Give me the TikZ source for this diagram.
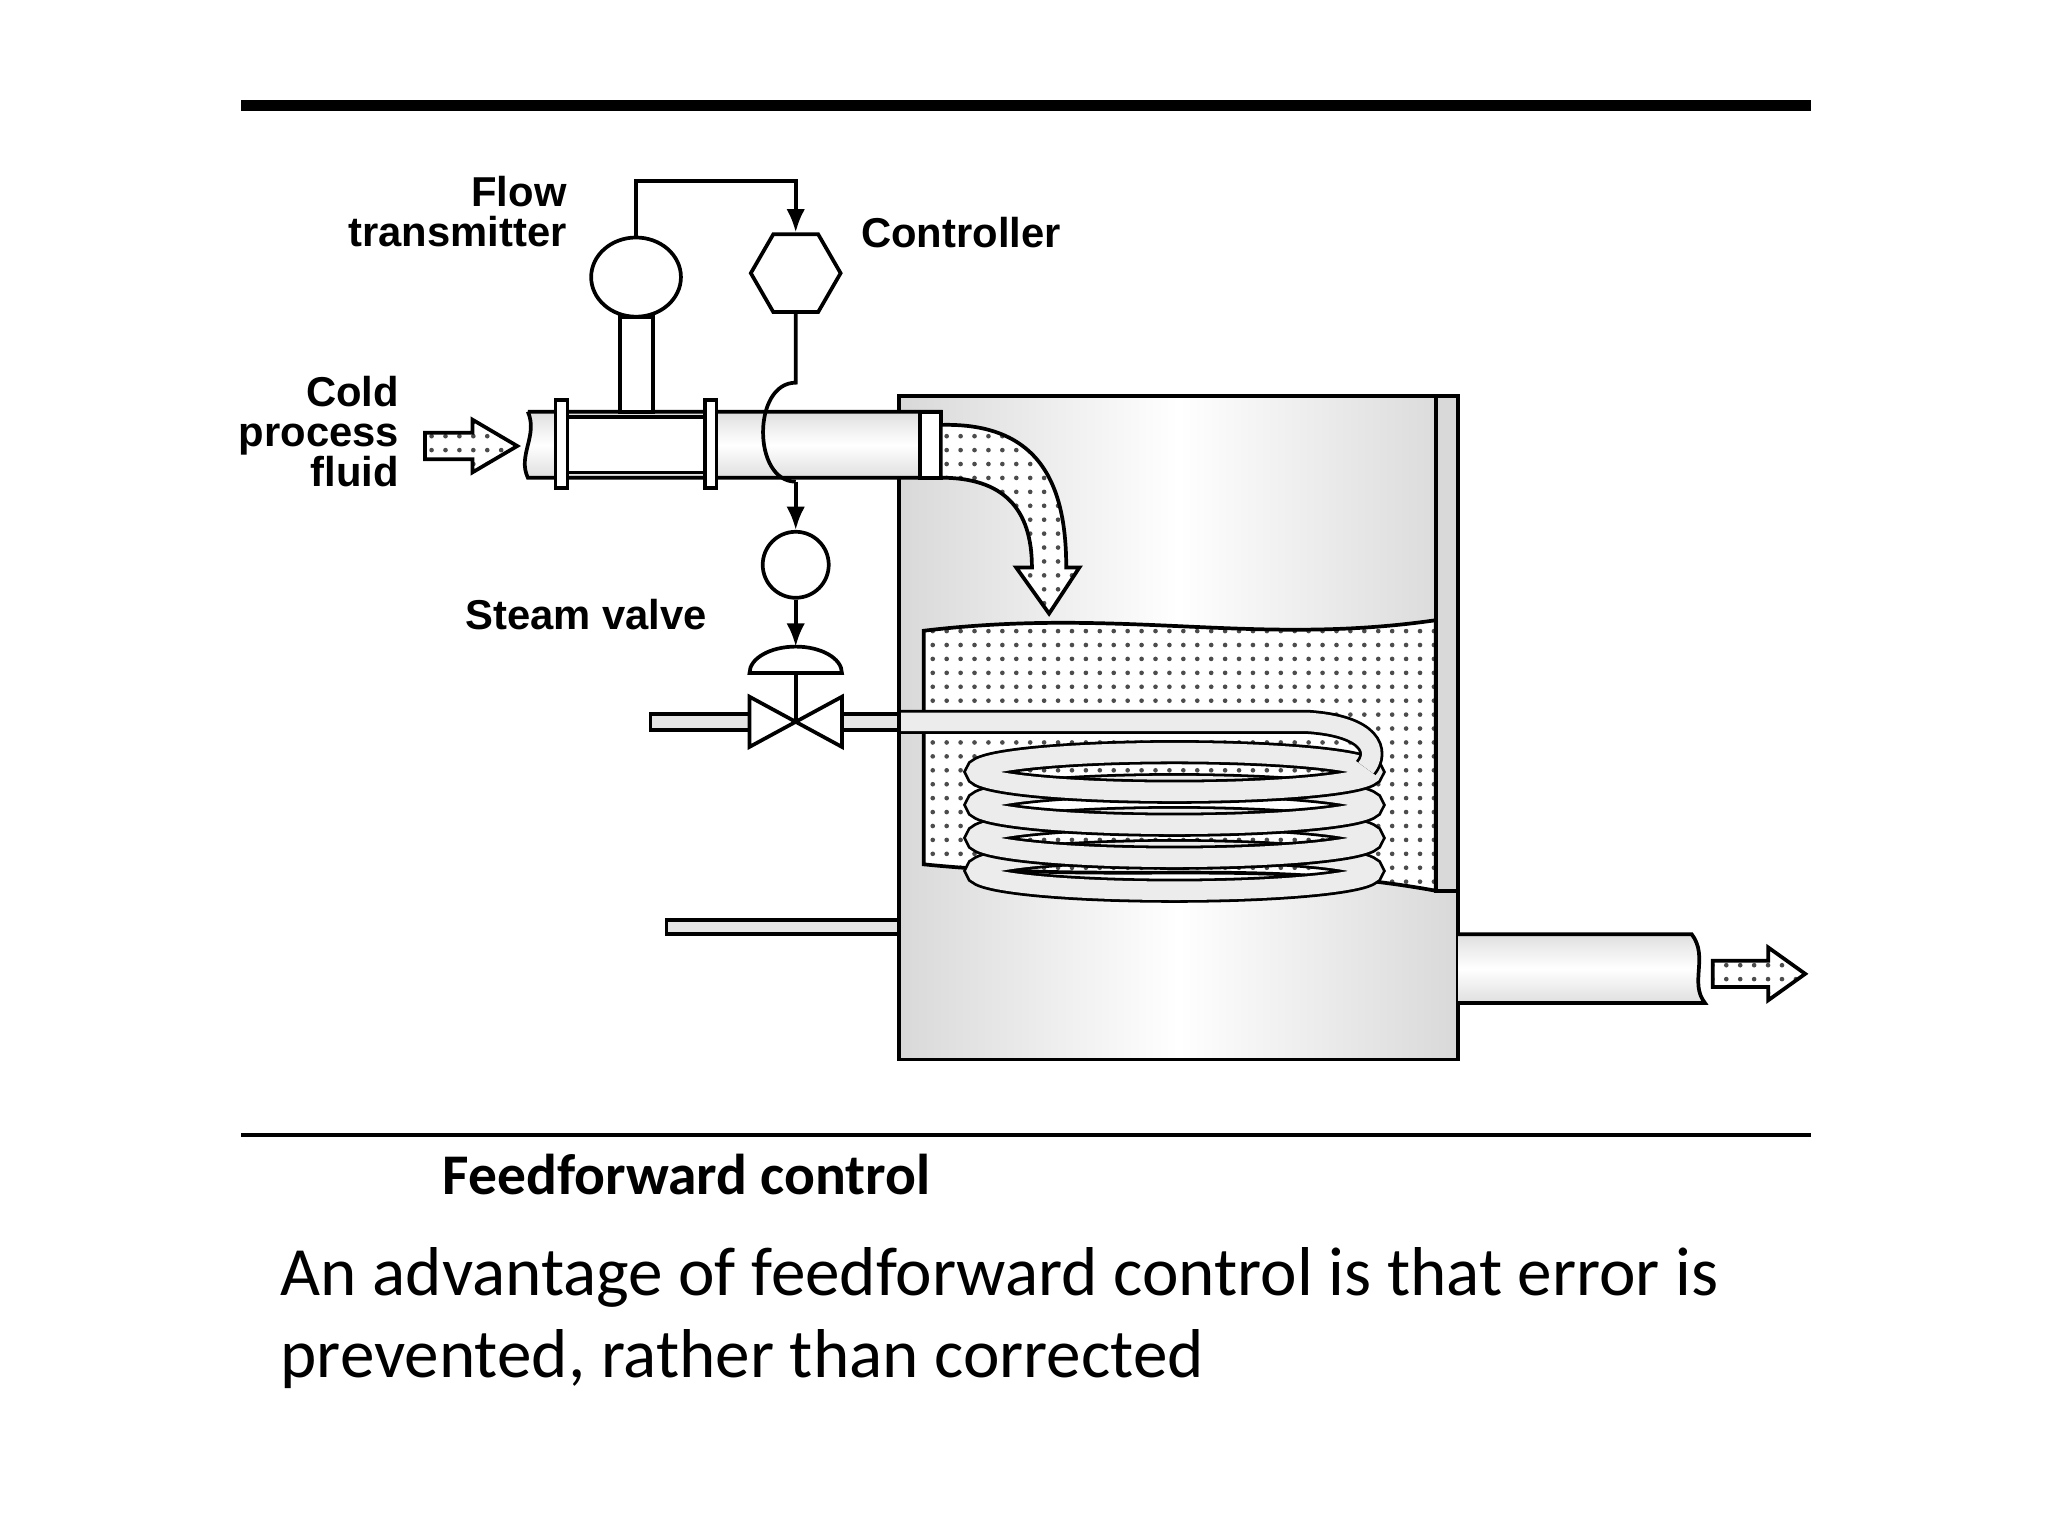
\documentclass[tikz,border=0pt]{standalone}
\usepackage{fontspec}
\setmainfont{Carlito}
\newfontfamily\labfont{Liberation Sans}
\usetikzlibrary{shapes.geometric,patterns,arrows.meta}
\tikzset{
  lab/.style={font=\labfont\bfseries\fontsize{9}{8.6}\selectfont,align=right,inner sep=0pt},
  inst/.style={draw,thick,ellipse,fill=white,inner sep=0pt},
  pipe/.style={draw,thick,top color=gray!25,bottom color=gray!25,middle color=white},
  dotted fill/.style={pattern=dots,pattern color=black!70},
  coil/.style={draw=black,double=gray!15,double distance=4pt,line width=0.6pt},
  sig/.style={thick,-{Latex[length=5pt,width=4pt]}},
}
\begin{document}
\begin{tikzpicture}[x=0.01cm,y=-0.01cm]
\useasboundingbox (0,0) rectangle (1552,1164);
% rules and captions
\draw[line width=2.5pt] (183,80) -- (1372,80);
\draw[thick] (183,860) -- (1372,860);
\node[anchor=west,font=\bfseries\fontsize{12.4}{15}\selectfont] (cap) at (323,890) {Feedforward control};
\node[anchor=north west,align=left,font=\fontsize{14.9}{17.6}\selectfont,inner sep=0pt] (txt) at (212,945)
  {An advantage of feedforward control is that error is\\prevented, rather than corrected};
% tank
\draw[thick,left color=gray!30,right color=gray!30,middle color=white] (681,300) rectangle (1105,803);
\draw[thick,fill=gray!30] (1088,300) rectangle (1105,675);
% liquid
\path[fill=white] (700,478) .. controls (850,460) and (950,490) .. (1088,470) -- (1088,675)
  .. controls (950,650) and (850,670) .. (700,655) -- cycle;
\draw[thick,dotted fill] (700,478) .. controls (850,460) and (950,490) .. (1088,470) -- (1088,675)
  .. controls (950,650) and (850,670) .. (700,655) -- cycle;
% coil
\foreach \cy in {660,635,610,585}
  \draw[coil] (890,\cy) ellipse (150 and 15);
\draw[coil] (681,547) -- (990,547) .. controls (1040,550) and (1045,570) .. (1035,582);
% steam and lower pipes
\draw[thick,fill=gray!20] (493,541) rectangle (568,553);
\draw[thick,fill=gray!20] (638,541) rectangle (681,553);
\draw[thick,fill=gray!20] (505,697) rectangle (681,708);
% outlet pipe
\draw[pipe] (1105,708) -- (1282,708) .. controls (1295,725) and (1280,745) .. (1292,760) -- (1105,760);
\draw[thick,dotted fill] (1298,728) -- (1340,728) -- (1340,718) -- (1368,738) -- (1340,758) -- (1340,748) -- (1298,748) -- cycle;
% inlet pipe
\draw[pipe] (400,312) -- (713,312) -- (713,362) -- (400,362) .. controls (392,345) and (408,330) .. (400,312);
\draw[thick,fill=white] (430,316) rectangle (538,358);
\draw[thick,fill=white] (421,303) rectangle (430,370);
\draw[thick,fill=white] (534,303) rectangle (543,370);
\draw[thick,fill=white] (697,312) rectangle (713,362);
\draw[thick,dotted fill] (322,328) -- (358,328) -- (358,318) -- (392,338) -- (358,358) -- (358,348) -- (322,348) -- cycle;
% curved flow into tank
\path[fill=white] (713,322) .. controls (790,320) and (808,370) .. (808,430) -- (818,430)
  -- (795,465) -- (770,430) -- (782,430) .. controls (782,385) and (760,362) .. (713,362) -- cycle;
\draw[thick,dotted fill] (713,322) .. controls (790,320) and (808,370) .. (808,430) -- (818,430)
  -- (795,465) -- (770,430) -- (782,430) .. controls (782,385) and (760,362) .. (713,362) -- cycle;
% instruments
\node[inst,minimum width=0.68cm,minimum height=0.6cm] (ft) at (482,210) {};
\draw[thick,fill=white] (470,240) rectangle (495,312);
\node[draw,thick,regular polygon,regular polygon sides=6,fill=white,minimum size=0.68cm,inner sep=0pt] (ctrl) at (603,207) {};
\node[inst,minimum size=0.5cm] (ip) at (603,428) {};
\draw[thick,fill=white] (568,510) arc (180:360:35 and 20) -- cycle;
\coordinate (act) at (603,490);
\draw[thick,fill=white] (568,528) -- (638,566) -- (638,528) -- (568,566) -- cycle;
\draw[thick] (603,510) -- (603,547);
% signal lines
\draw[sig] (ft.north) |- (603,137) -- (ctrl.north);
\draw[thick] (ctrl.south) -- (603,290) .. controls (570,290) and (570,365) .. (603,365);
\draw[sig] (603,365) -- (ip.north);
\draw[sig] (ip.south) -- (act);
% labels
\node[lab,anchor=east] (lft) at (430,160) {Flow\\transmitter};
\node[lab,anchor=west] (lctrl) at (652,176) {Controller};
\node[lab,anchor=east] (lcold) at (303,327) {Cold\\process\\fluid};
\node[lab,anchor=west] (lsv) at (352,466) {Steam valve};
\end{tikzpicture}
\end{document}
